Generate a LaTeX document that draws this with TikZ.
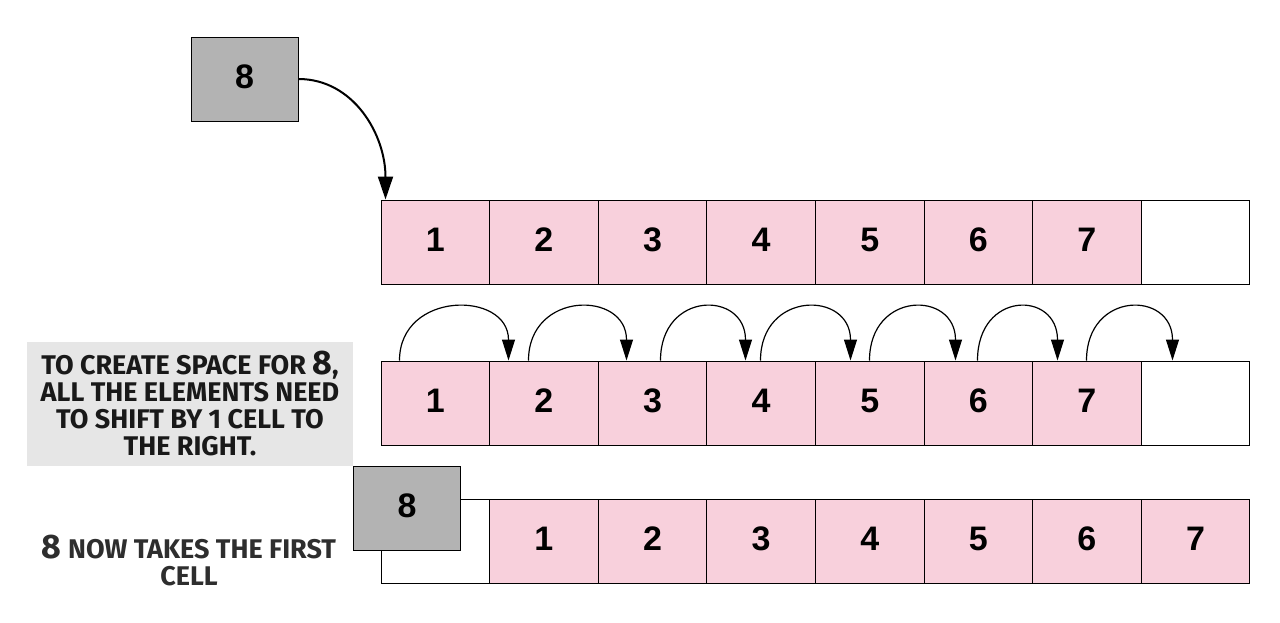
\documentclass[tikz,border=0pt]{standalone}
\usepackage{fontspec}
\setmainfont{Liberation Sans}
\newfontfamily\comicfont{Fira Sans}
\newcommand\bigeightfont{\comicfont\fontsize{34}{27}\selectfont}
\usetikzlibrary{arrows.meta}
\definecolor{cellpink}{RGB}{248,208,220}
\definecolor{boxgrey}{RGB}{179,179,179}
\definecolor{notegrey}{RGB}{230,230,230}
\definecolor{inkdark}{RGB}{25,25,25}
\tikzset{
  cellbox/.style={draw=black, line width=1pt, minimum width=108.6pt, minimum height=84pt, inner sep=0pt, text height=24pt, text depth=6pt, font=\fontsize{34}{36}\selectfont\bfseries},
  pinkcell/.style={cellbox, fill=cellpink},
  emptycell/.style={cellbox, fill=white},
  eightbox/.style={cellbox, fill=boxgrey, minimum width=107pt},
  arr/.style={draw=black, line width=1.2pt, -{Triangle[length=21pt,width=13pt]}},
  bigarr/.style={draw=black, line width=2pt, -{Triangle[length=23pt,width=15pt]}},
  notetext/.style={font=\comicfont\bfseries\fontsize{27}{27}\selectfont, text=inkdark, align=center, inner sep=0pt}
}
\begin{document}
\begin{tikzpicture}[x=1pt,y=-1pt]
\useasboundingbox (0,0) rectangle (1280,622);
% top 8
\node[eightbox] (e8) at (244.5,79) {8};
% row 1
\foreach \i in {1,...,7} {
  \node[pinkcell] (a\i) at ({381+(\i-1)*108.6+54.3},242) {\i};
}
\node[emptycell] (a8) at ({381+7*108.6+54.3},242) {};
% row 2
\foreach \i in {1,...,7} {
  \node[pinkcell] (b\i) at ({381+(\i-1)*108.6+54.3},403) {\i};
}
\node[emptycell] (b8) at ({381+7*108.6+54.3},403) {};
% row 3
\node[emptycell] (c0) at ({381+54.3},541) {};
\foreach \i in {1,...,7} {
  \node[pinkcell] (c\i) at ({381+\i*108.6+54.3},541) {\i};
}
% bottom 8
\node[eightbox] (f8) at (407,508) {8};
% note box
\node[fill=notegrey, minimum width=326pt, minimum height=124pt, inner sep=0pt] (note) at (190,404) {};
\node[notetext] (notetxt) at (190,403) {TO CREATE SPACE FOR {\bigeightfont 8},\\ALL THE ELEMENTS NEED\\TO SHIFT BY 1 CELL TO\\THE RIGHT.};
\node[notetext, text=black!82] (note2) at (189,560) {{\bigeightfont 8} NOW TAKES THE FIRST\\CELL};
% top arrow
\draw[bigarr] (e8.east) .. controls +(55,0) and +(0,-65) .. ([xshift=5pt]a1.north west);
% shift arrows
\foreach \i/\si/\j/\ei in {1/19/2/19.4, 2/39.4/3/28.8, 3/62.8/4/39.2, 4/54.2/5/35.6, 5/54.6/6/32, 6/54/7/25.4, 7/54.4/8/31.8} {
  \draw[arr] ([xshift=\si pt]b\i.north west) .. controls +(0,-70) and +(0,-70) .. ([xshift=\ei pt]b\j.north west);
}
\end{tikzpicture}
\end{document}
